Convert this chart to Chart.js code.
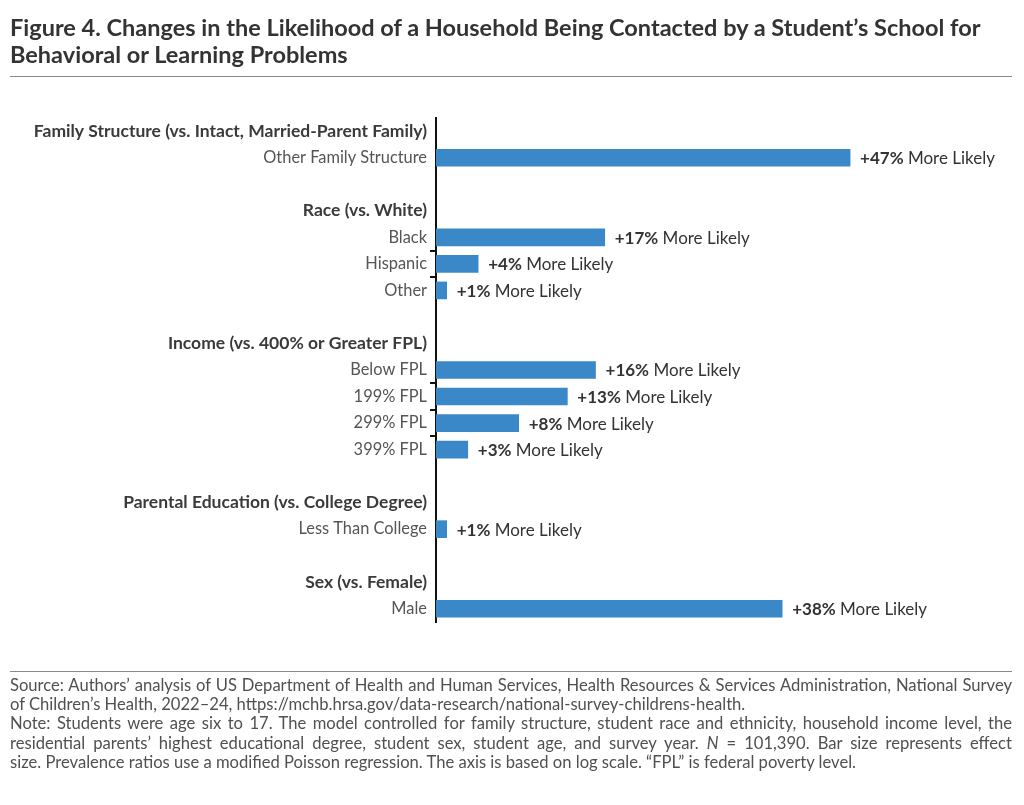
<!DOCTYPE html>
<html>
<head>
<meta charset="utf-8">
<title>Figure 4</title>
<script src="https://cdn.jsdelivr.net/npm/chart.js@4.4.1/dist/chart.umd.min.js"></script>
<style>
    html, body {
        margin: 0;
        padding: 0;
        background: #fff;
    }
    body {
        width: 1024px;
        height: 805px;
        position: relative;
        overflow: hidden;
        font-family: Lato, "Open Sans", sans-serif;
    }
    .titulo {
        position: absolute;
        left: 10px;
        top: 14px;
        width: 1010px;
        font-size: 23.5px;
        line-height: 27px;
        font-weight: 700;
        color: #333;
        white-space: nowrap;
    }
    .regua {
        position: absolute;
        left: 10px;
        width: 1002px;
        height: 0;
        border-top: 1.5px solid #8a8a8a;
    }
    .grafico {
        position: absolute;
        left: 0;
        top: 0;
        width: 1024px;
        height: 805px;
    }
    .notas {
        position: absolute;
        left: 10px;
        top: 676px;
        width: 1002px;
        font-size: 16.6px;
        line-height: 19.2px;
        color: #505050;
    }
    .notas span {
        display: block;
        white-space: nowrap;
        text-align: justify;
        text-align-last: justify;
    }
    .notas span.fim {
        text-align-last: left;
    }
</style>
</head>
<body>
<div class="grafico"><canvas id="graficoContato" width="1024" height="805"></canvas></div>

<div class="titulo">Figure 4. Changes in the Likelihood of a Household Being Contacted by a Student’s School for<br>Behavioral or Learning Problems</div>
<div class="regua" style="top:76px"></div>
<div class="regua" style="top:671px"></div>

<div class="notas">
    <span>Source: Authors’ analysis of US Department of Health and Human Services, Health Resources &amp; Services Administration, National Survey</span>
    <span class="fim">of Children’s Health, 2022–24, https://mchb.hrsa.gov/data-research/national-survey-childrens-health.</span>
    <span>Note: Students were age six to 17. The model controlled for family structure, student race and ethnicity, household income level, the</span>
    <span>residential parents’ highest educational degree, student sex, student age, and survey year. <i>N</i> = 101,390. Bar size represents effect</span>
    <span class="fim">size. Prevalence ratios use a modified Poisson regression. The axis is based on log scale. “FPL” is federal poverty level.</span>
</div>

<script>
    const groupHeaders = [
        'Family Structure (vs. Intact, Married-Parent Family)',
        'Race (vs. White)',
        'Income (vs. 400% or Greater FPL)',
        'Parental Education (vs. College Degree)',
        'Sex (vs. Female)'
    ];
    const groupItems = [
        ['Other Family Structure'],
        ['Black', 'Hispanic', 'Other'],
        ['Below FPL', '199% FPL', '299% FPL', '399% FPL'],
        ['Less Than College'],
        ['Male']
    ];
    // percent more likely (prevalence ratio - 1)
    const groupPercents = [
        [47],
        [17, 4, 1],
        [16, 13, 8, 3],
        [1],
        [38]
    ];

    // rows: header, items, blank line between groups
    const rowLabels = [];
    const rowPercents = [];
    const rowKinds = [];

    groupHeaders.forEach(function (header, g) {
        if (g > 0) {
            rowLabels.push('');
            rowPercents.push(null);
            rowKinds.push('blank');
        }
        rowLabels.push(header);
        rowPercents.push(null);
        rowKinds.push('header');
        groupItems[g].forEach(function (item, i) {
            rowLabels.push(item);
            rowPercents.push(groupPercents[g][i]);
            rowKinds.push('item');
        });
    });

    const barData = rowPercents.map(function (p) {
        return p === null ? null : [1, 1 + p / 100];
    });

    const rotulosValor = {
        id: 'rotulosValor',
        afterDatasetsDraw: function (chart) {
            const ctx = chart.ctx;
            const meta = chart.getDatasetMeta(0);
            ctx.save();
            ctx.textBaseline = 'middle';
            ctx.fillStyle = '#333';
            meta.data.forEach(function (bar, i) {
                const p = rowPercents[i];
                if (p === null) {
                    return;
                }
                const forte = '+' + p + '%';
                let x = bar.x + 10;
                ctx.font = '700 17px Lato';
                ctx.fillText(forte, x, bar.y + 1);
                x += ctx.measureText(forte).width;
                ctx.font = '400 17px Lato';
                ctx.fillText(' More Likely', x, bar.y + 1);
            });
            ctx.restore();
        }
    };

    new Chart(document.getElementById('graficoContato'), {
        type: 'bar',
        data: {
            labels: rowLabels,
            datasets: [{
                data: barData,
                backgroundColor: '#3b88c9',
                barThickness: 17
            }]
        },
        options: {
            indexAxis: 'y',
            responsive: false,
            animation: false,
            layout: {
                padding: { left: 0, top: 118, bottom: 183, right: 24 }
            },
            plugins: {
                legend: { display: false },
                tooltip: { enabled: false }
            },
            scales: {
                x: {
                    type: 'logarithmic',
                    display: false,
                    min: 1,
                    max: 1.69
                },
                y: {
                    afterFit: function (scale) {
                        scale.width = 436;
                    },
                    border: {
                        display: true,
                        color: '#111',
                        width: 2
                    },
                    grid: {
                        offset: true,
                        drawOnChartArea: false,
                        drawTicks: true,
                        tickLength: 6,
                        lineWidth: 2,
                        color: function (context) {
                            const i = context.index;
                            if (rowKinds[i] === 'item' && rowKinds[i - 1] === 'item') {
                                return '#111';
                            }
                            return 'rgba(0,0,0,0)';
                        }
                    },
                    ticks: {
                        padding: 3,
                        autoSkip: false,
                        font: function (context) {
                            const header = rowKinds[context.index] === 'header';
                            return {
                                family: 'Lato',
                                size: header ? 17.5 : 16.4,
                                weight: header ? '700' : '400'
                            };
                        },
                        color: function (context) {
                            return rowKinds[context.index] === 'header' ? '#3a3a3a' : '#555';
                        }
                    }
                }
            }
        },
        plugins: [rotulosValor]
    });
</script>
</body>
</html>
